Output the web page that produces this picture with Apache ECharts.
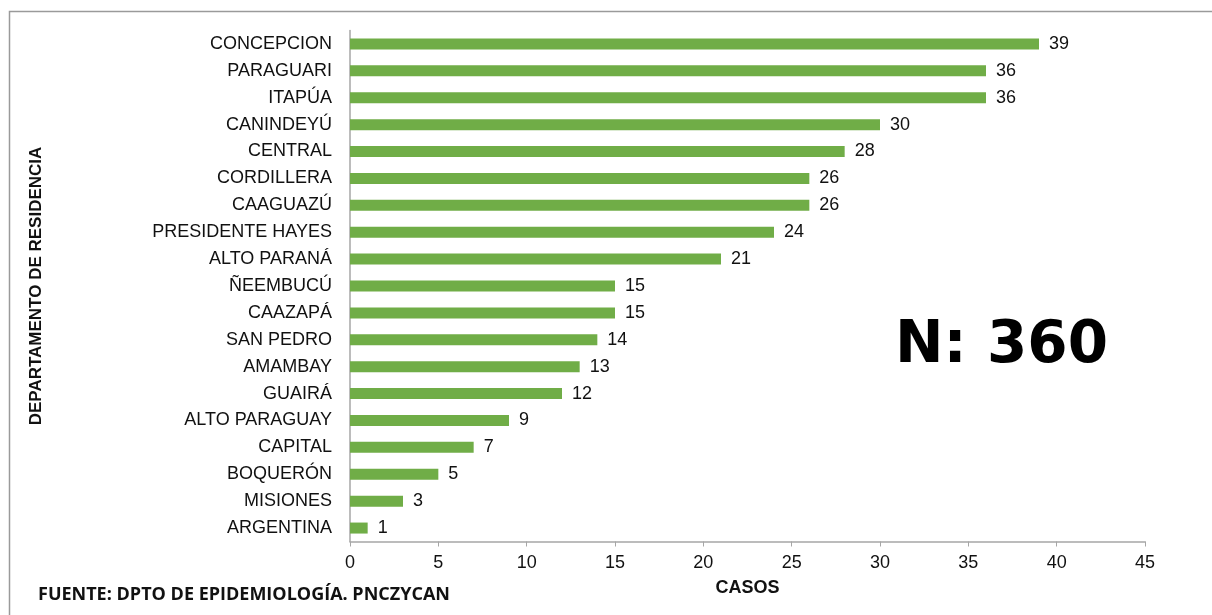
<!DOCTYPE html>
<html>
<head>
<meta charset="utf-8">
<script src="https://cdn.jsdelivr.net/npm/echarts@6/dist/echarts.min.js"></script>
<style>
  html, body { margin: 0; padding: 0; background: #fff; }
  #main { width: 1212px; height: 615px; }
</style>
</head>
<body>
<div id="main"></div>
<script>
// departamentos (top to bottom as in the picture)
const departamentos = [
  'CONCEPCION', 'PARAGUARI', 'ITAPÚA', 'CANINDEYÚ', 'CENTRAL', 'CORDILLERA',
  'CAAGUAZÚ', 'PRESIDENTE HAYES', 'ALTO PARANÁ', 'ÑEEMBUCÚ', 'CAAZAPÁ',
  'SAN PEDRO', 'AMAMBAY', 'GUAIRÁ', 'ALTO PARAGUAY', 'CAPITAL', 'BOQUERÓN',
  'MISIONES', 'ARGENTINA'
]
const casos = [39, 36, 36, 30, 28, 26, 26, 24, 21, 15, 15, 14, 13, 12, 9, 7, 5, 3, 1]
const xTicks = [0, 45, 5] // min, max, interval

const chartDom = document.getElementById('main')
const myChart = echarts.init(chartDom)

let option

option = {
  animation: false,
  backgroundColor: '#fff',
  grid: {
    left: 350,
    right: 67,
    top: 30.5,
    bottom: 73.5
  },
  xAxis: {
    type: 'value',
    min: xTicks[0],
    max: xTicks[1],
    interval: xTicks[2],
    name: 'CASOS',
    nameLocation: 'middle',
    nameGap: 38,
    nameTextStyle: {
      color: '#111',
      fontFamily: 'Liberation Sans',
      fontWeight: 'bold',
      fontSize: 18
    },
    axisLine: { show: true, lineStyle: { color: '#a6a6a6', width: 1.5 } },
    axisTick: { show: true, length: 5, lineStyle: { color: '#a6a6a6' } },
    splitLine: { show: false },
    axisLabel: {
      color: '#111',
      fontFamily: 'Liberation Sans',
      fontSize: 18,
      margin: 13
    }
  },
  yAxis: {
    type: 'category',
    inverse: true,
    data: departamentos,
    name: 'DEPARTAMENTO DE RESIDENCIA',
    nameLocation: 'middle',
    nameGap: 305,
    nameRotate: 90,
    nameTextStyle: {
      color: '#111',
      fontFamily: 'Liberation Sans',
      fontWeight: 'bold',
      fontSize: 17
    },
    axisLine: { show: true, lineStyle: { color: '#a6a6a6', width: 1.5 } },
    axisTick: { show: false },
    axisLabel: {
      color: '#111',
      fontFamily: 'Liberation Sans',
      fontSize: 18,
      margin: 18
    }
  },
  series: [
    {
      type: 'bar',
      data: casos,
      barWidth: 11,
      itemStyle: { color: '#70ad47' },
      label: {
        show: true,
        position: 'right',
        distance: 10,
        color: '#111',
        fontFamily: 'Liberation Sans',
        fontSize: 18
      }
    }
  ],
  graphic: [
    // marco del gráfico
    {
      type: 'polyline',
      shape: { points: [[9.5, 615], [9.5, 11.5], [1212, 11.5]] },
      style: { stroke: '#9a9a9a', lineWidth: 1.5, fill: null }
    },
    {
      type: 'text',
      left: 895,
      top: 318,
      style: {
        text: 'N: 360',
        fill: '#000',
        font: 'bold 58px "DejaVu Sans"'
      }
    },
    {
      type: 'text',
      left: 38,
      top: 586,
      style: {
        text: 'FUENTE: DPTO DE EPIDEMIOLOGÍA. PNCZYCAN',
        fill: '#111',
        font: 'bold 18px "Open Sans"'
      }
    }
  ]
}

option && myChart.setOption(option)
</script>
</body>
</html>
